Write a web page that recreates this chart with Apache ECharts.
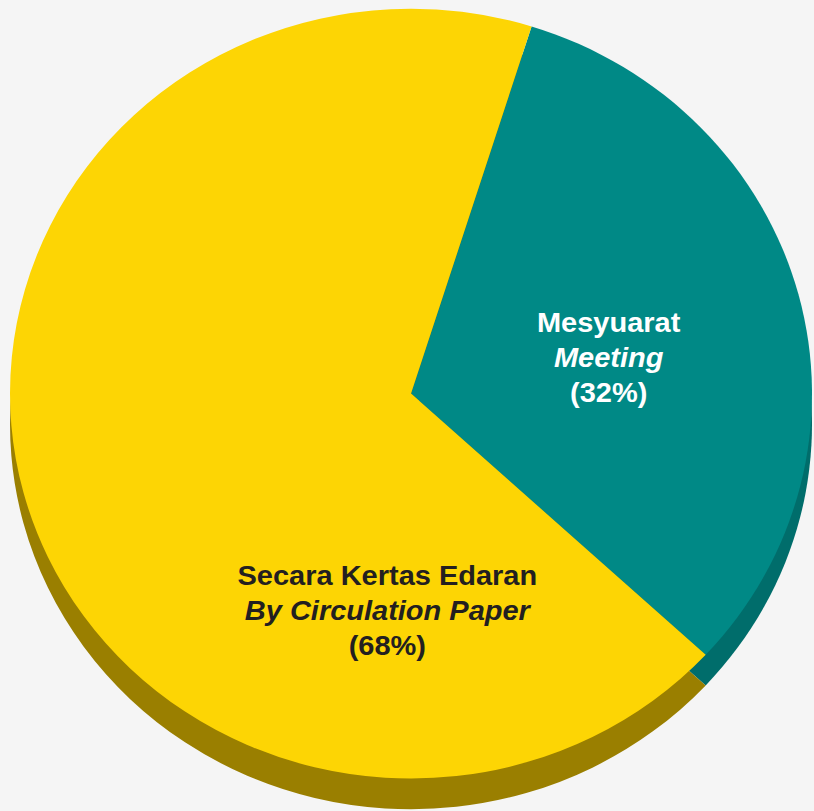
<!DOCTYPE html>
<html>
<head>
<meta charset="utf-8">
<script src="https://cdn.jsdelivr.net/npm/echarts@6/dist/echarts.min.js"></script>
<style>
html,body{margin:0;padding:0;background:#f5f5f5;overflow:hidden;}
#c{width:814px;height:845px;transform:scaleY(0.96);transform-origin:0 0;}
</style>
</head>
<body>
<div id="c"></div>
<script>
const namesMs = ['Mesyuarat', 'Secara Kertas Edaran'];
const namesEn = ['Meeting', 'By Circulation Paper'];
const values = [32, 68];
const topColors = ['#008986', '#FDD504'];
const sideColors = ['#006D6B', '#9A7F00'];
const labelColors = ['#ffffff', '#231F20'];
const labelShift = [[1, 14], [173, 173]];

const chart = echarts.init(document.getElementById('c'), null, { renderer: 'svg' });
const CX = 411, CY = 410, R = 401, DEPTH = 32, START = 72.5;

const topData = values.map((v, i) => ({
  value: v,
  name: namesMs[i],
  itemStyle: { color: topColors[i] },
  label: {
    color: labelColors[i],
    formatter: '{a|' + namesMs[i] + '}\n{b|' + namesEn[i] + '}\n{a|(' + v + '%)}'
  }
}));
const sideData = values.map((v, i) => ({
  value: v, name: namesMs[i] + ' side', itemStyle: { color: sideColors[i] }
}));

chart.setOption({
  backgroundColor: '#f5f5f5',
  animation: false,
  series: [
    {
      type: 'pie', silent: true, center: [CX, CY + DEPTH], radius: R,
      startAngle: START, clockwise: true, label: { show: false }, labelLine: { show: false },
      data: sideData
    },
    {
      type: 'pie', silent: true, center: [CX, CY], radius: R,
      startAngle: START, clockwise: true,
      label: {
        show: true, position: 'inside', fontFamily: 'Liberation Sans, Arial, sans-serif',
        rich: {
          a: { fontSize: 29, fontWeight: 'bold', lineHeight: 36.5, fontFamily: 'Liberation Sans, Arial, sans-serif' },
          b: { fontSize: 29, fontWeight: 'bold', fontStyle: 'italic', lineHeight: 36.5, fontFamily: 'Liberation Sans, Arial, sans-serif' }
        }
      },
      labelLine: { show: false },
      labelLayout: function (p) {
        const s = labelShift[p.dataIndex];
        return { dx: s[0], dy: s[1] };
      },
      data: topData
    }
  ]
});
</script>
</body>
</html>
